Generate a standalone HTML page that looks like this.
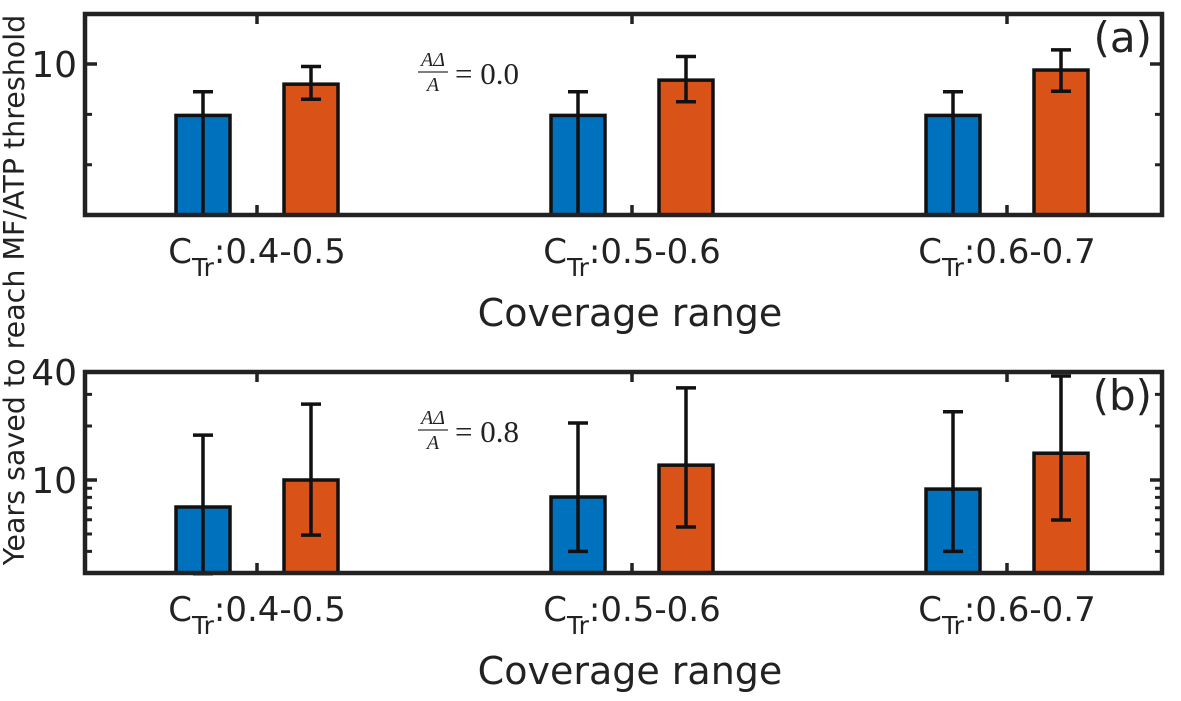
<!DOCTYPE html>
<html><head><meta charset="utf-8"><style>
body{margin:0;background:#fff;}
svg text{font-family:"DejaVu Sans","Liberation Sans",sans-serif;fill:#222;}
</style></head><body>
<svg id="chart" width="1181" height="696" viewBox="0 0 1181 696" xmlns="http://www.w3.org/2000/svg">
<text transform="translate(24,290) rotate(-90)" text-anchor="middle" font-size="28.5">Years saved to reach MF/ATP threshold</text>
</svg>
<script>
const categories = ["0.4-0.5","0.5-0.6","0.6-0.7"];
const aBlue = [7.96, 7.96, 7.96];
const aBlueLo = [4.0, 4.0, 4.0];
const aBlueHi = [8.9, 8.9, 8.9];
const aOrange = [9.2, 9.36, 9.76];
const aOrangeLo = [8.6, 8.5, 8.92];
const aOrangeHi = [9.9, 10.3, 10.56];
const bBlue = [7.07, 8.04, 8.9];
const bBlueLo = [3.0, 4.0, 4.0];
const bBlueHi = [17.8, 20.8, 24.0];
const bOrange = [10, 12.1, 14.1];
const bOrangeLo = [4.93, 5.47, 5.98];
const bOrangeHi = [26.5, 32.6, 38];
const aTicks = [10];
const bTicks = [10, 40];

const svg = document.getElementById('chart');
const NS = "http://www.w3.org/2000/svg";
function mk(tag, attrs, parent){const e=document.createElementNS(NS,tag);for(const k in attrs)e.setAttribute(k,attrs[k]);(parent||svg).appendChild(e);return e;}
const X0=85, X1=1162;
const groupX = i => 257 + i*375;

function panel(cfg){
  const g = mk('g',{});
  
  
  const y = cfg.y;
  const series=[[cfg.blue,cfg.blueLo,cfg.blueHi,'#0072BD',-54,'blue'],[cfg.orange,cfg.orangeLo,cfg.orangeHi,'#D95319',54,'orange']];
  series.forEach(s=>{
    categories.forEach((c,i)=>{
      const cx=groupX(i)+s[4], top=y(s[0][i]), bot=cfg.bot;
      const r=mk('rect',{x:cx-27,y:top,width:54,height:bot-top,fill:s[3],stroke:'#111','stroke-width':3.5},g);
      
      
      const lo=Math.min(y(s[1][i]),cfg.bot+3), hi=y(s[2][i]);
      const eb=mk('path',{d:`M${cx},${lo}V${hi}M${cx-10},${hi}H${cx+10}M${cx-10},${lo}H${cx+10}`,stroke:'#111','stroke-width':3.5,fill:'none'},g);
      
      
    });
  });
  cfg.minor.forEach(v=>{
    const yy=y(v);
    mk('path',{d:`M${X0},${yy}H${X0+7}M${X1},${yy}H${X1-7}`,stroke:'#222','stroke-width':3},g);
  });
  cfg.ticks.forEach(v=>{
    const yy=y(v);
    mk('path',{d:`M${X0},${yy}H${X0+12}M${X1},${yy}H${X1-12}`,stroke:'#222','stroke-width':3.5},g);
    const t=mk('text',{x:X0-8,y:yy+13,'text-anchor':'end','font-size':36},g);
    t.textContent=v;
    
    
  });
  categories.forEach((c,i)=>{
    const gx=groupX(i);
    mk('path',{d:`M${gx},${cfg.top}v10M${gx},${cfg.bot}v-10`,stroke:'#222','stroke-width':3.5},g);
    const t=mk('text',{x:gx,y:cfg.bot+48,'text-anchor':'middle','font-size':34},g);
    t.innerHTML=`C<tspan font-size="25" dy="13">Tr</tspan><tspan dy="-13">:${c}</tspan>`;
    
    
  });
  const box=mk('rect',{x:X0,y:cfg.top,width:X1-X0,height:cfg.bot-cfg.top,fill:'none',stroke:'#222','stroke-width':4.5},g);
  
  
  const xl=mk('text',{x:630,y:cfg.bot+111,'text-anchor':'middle','font-size':38},g);
  xl.textContent='Coverage range';
  
  
  const pl=mk('text',{x:1152,y:cfg.top+38,'text-anchor':'end','font-size':42},g);
  pl.textContent=cfg.label;
  
  
  const an=mk('g',{},g);
  
  
  const ay=cfg.top+62;
  const t1=mk('text',{x:433,y:ay-10,'text-anchor':'middle','font-size':20,'font-style':'italic',style:'font-family:"Liberation Serif",serif'},an);t1.textContent='AΔ';
  mk('path',{d:`M418,${ay-4}H448`,stroke:'#555','stroke-width':1.5},an);
  const t2=mk('text',{x:433,y:ay+15,'text-anchor':'middle','font-size':20,'font-style':'italic',style:'font-family:"Liberation Serif",serif'},an);t2.textContent='A';
  const t3=mk('text',{x:455,y:ay+8,'font-size':31,style:'font-family:"Liberation Serif",serif'},an);t3.textContent='= '+cfg.ann;
}
const ya = v => 64 - (v-10)*25.2;
panel({name:'panel-a',top:14,bot:215,y:ya,blue:aBlue,blueLo:aBlueLo,blueHi:aBlueHi,orange:aOrange,orangeLo:aOrangeLo,orangeHi:aOrangeHi,ticks:aTicks,minor:[8,6],label:'(a)',ann:'0.0'});
const yb = v => 480 - (Math.log10(v)-1)*179.4;
panel({name:'panel-b',top:372,bot:573,y:yb,blue:bBlue,blueLo:bBlueLo,blueHi:bBlueHi,orange:bOrange,orangeLo:bOrangeLo,orangeHi:bOrangeHi,ticks:bTicks,minor:[4,5,6,7,8,9,20,30],label:'(b)',ann:'0.8'});
</script>
</body></html>
